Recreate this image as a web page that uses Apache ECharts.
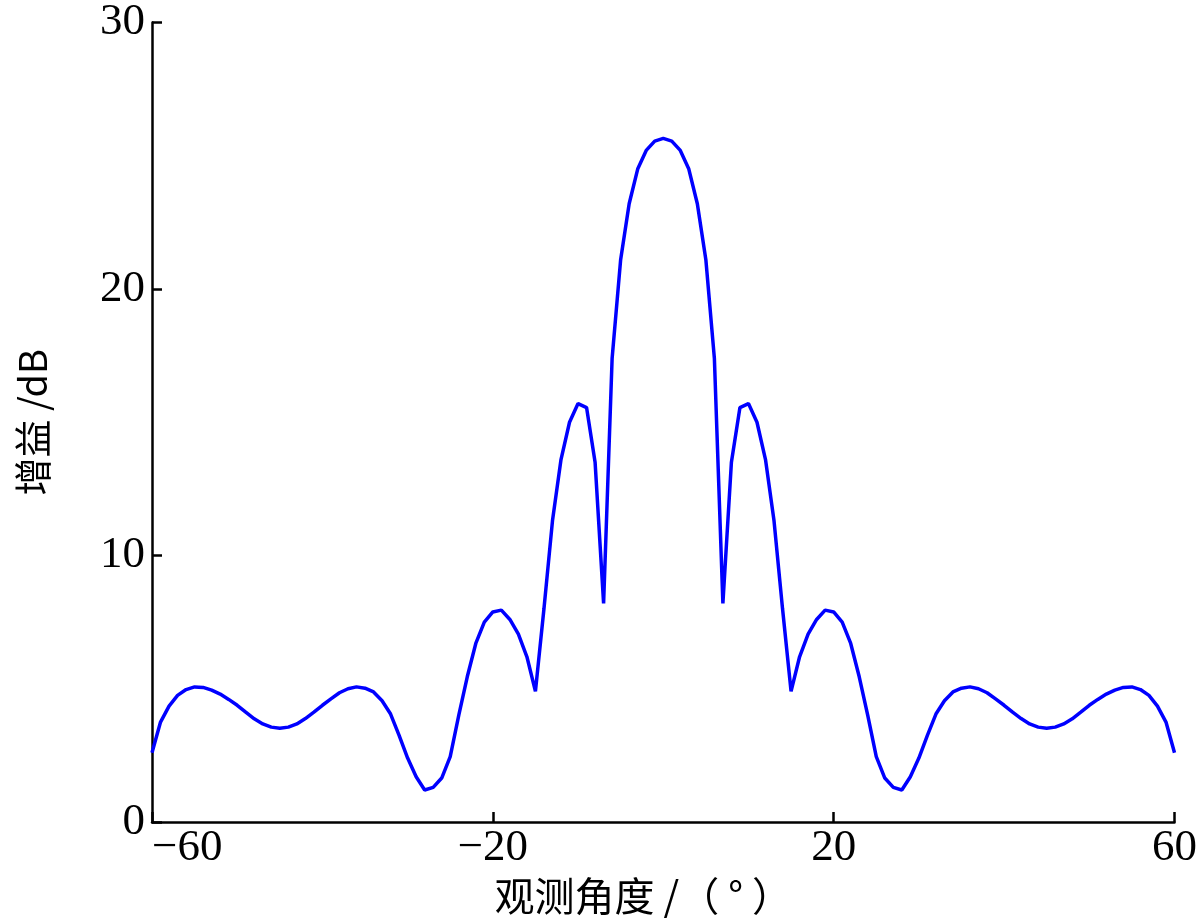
<!DOCTYPE html>
<html lang="zh">
<head>
  <meta charset="UTF-8">
  <title>增益与观测角度</title>
  <script src="https://cdn.jsdelivr.net/npm/echarts@6/dist/echarts.min.js"></script>
  <style>
    html, body { margin: 0; padding: 0; background: #fff; }
    #chart { width: 1200px; height: 924px; }
  </style>
</head>
<body>
  <div id="chart"></div>
<script>
  // 观测角度（°）
  const angles = [
    -60, -59, -58, -57, -56, -55, -54, -53, -52, -51,
    -50, -49, -48, -47, -46, -45, -44, -43, -42, -41,
    -40, -39, -38, -37, -36, -35, -34, -33, -32, -31,
    -30, -29, -28, -27, -26, -25, -24, -23, -22, -21,
    -20, -19, -18, -17, -16, -15, -14, -13, -12, -11,
    -10, -9, -8, -7, -6, -5, -4, -3, -2, -1,
    0,
    1, 2, 3, 4, 5, 6, 7, 8, 9, 10,
    11, 12, 13, 14, 15, 16, 17, 18, 19, 20,
    21, 22, 23, 24, 25, 26, 27, 28, 29, 30,
    31, 32, 33, 34, 35, 36, 37, 38, 39, 40,
    41, 42, 43, 44, 45, 46, 47, 48, 49, 50,
    51, 52, 53, 54, 55, 56, 57, 58, 59, 60
  ];

  // 增益 dB
  const gains = [
    2.6, 3.75, 4.35, 4.75, 4.97, 5.07, 5.05, 4.95, 4.8, 4.6,
    4.38, 4.12, 3.87, 3.68, 3.56, 3.52, 3.56, 3.68, 3.88, 4.12,
    4.38, 4.62, 4.85, 5.0, 5.07, 5.02, 4.88, 4.55, 4.05, 3.25,
    2.4, 1.7, 1.2, 1.3, 1.65, 2.45, 4.0, 5.45, 6.7, 7.5,
    7.88, 7.95, 7.6, 7.05, 6.2, 4.9, 8.0, 11.3, 13.6, 15.0,
    15.7, 15.55, 13.5, 8.2, 17.4, 21.1, 23.2, 24.5, 25.2, 25.55,
    25.65,
    25.55, 25.2, 24.5, 23.2, 21.1, 17.4, 8.2, 13.5, 15.55, 15.7,
    15.0, 13.6, 11.3, 8.0, 4.9, 6.2, 7.05, 7.6, 7.95, 7.88,
    7.5, 6.7, 5.45, 4.0, 2.45, 1.65, 1.3, 1.2, 1.7, 2.4,
    3.25, 4.05, 4.55, 4.88, 5.02, 5.07, 5.0, 4.85, 4.62, 4.38,
    4.12, 3.88, 3.68, 3.56, 3.52, 3.56, 3.68, 3.87, 4.12, 4.38,
    4.6, 4.8, 4.95, 5.05, 5.07, 4.97, 4.75, 4.35, 3.75, 2.6
  ];

  const xTicks = { min: -60, max: 60, interval: 40 };
  const yTicks = { min: 0, max: 30, interval: 10 };

  const serif = '"Liberation Serif", "DejaVu Serif", serif';
  const cjk = '"Noto Sans CJK SC", sans-serif';

  const chart = echarts.init(document.getElementById('chart'));

  const option = {
    animation: false,
    backgroundColor: '#fff',
    grid: { left: 152, right: 21, top: 13, bottom: 102 },
    xAxis: {
      type: 'value',
      min: xTicks.min,
      max: xTicks.max,
      interval: xTicks.interval,
      name: '观测角度 /（ ° ）',
      nameLocation: 'middle',
      nameGap: 48,
      nameTextStyle: { fontFamily: cjk, fontSize: 40, color: '#000', padding: [0, 40, 0, 0] },
      axisLine: { onZero: false, lineStyle: { color: '#000', width: 2.5 } },
      axisTick: { inside: true, length: 10, lineStyle: { color: '#000', width: 2.5 } },
      axisLabel: {
        fontFamily: serif, fontSize: 45, color: '#000', margin: 4,
        alignMinLabel: 'left',
        formatter: v => String(v).replace('-', '\u2212')
      },
      splitLine: { show: false }
    },
    yAxis: {
      type: 'value',
      min: yTicks.min,
      max: yTicks.max,
      interval: yTicks.interval,
      name: '增益 /dB',
      nameLocation: 'middle',
      nameGap: 100,
      nameTextStyle: { fontFamily: cjk, fontSize: 38, color: '#000' },
      axisLine: { show: true, onZero: false, lineStyle: { color: '#000', width: 2.5 } },
      axisTick: { show: true, inside: true, length: 10, lineStyle: { color: '#000', width: 2.5 } },
      axisLabel: { fontFamily: serif, fontSize: 45, color: '#000', margin: 7 },
      splitLine: { show: false }
    },
    series: [{
      type: 'line',
      data: angles.map((a, i) => [a, gains[i]]),
      showSymbol: false,
      symbol: 'none',
      lineStyle: { color: '#0000ff', width: 3.5 },
      clip: true
    }]
  };

  chart.setOption(option);
</script>
</body>
</html>
